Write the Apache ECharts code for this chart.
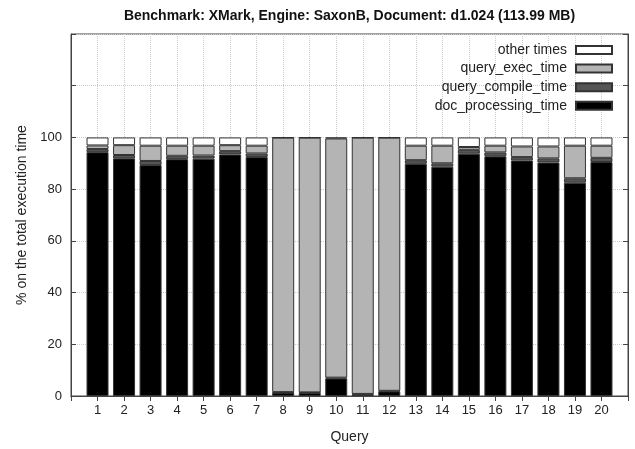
<!DOCTYPE html>
<html>
<head>
<meta charset="utf-8">
<script src="https://cdn.jsdelivr.net/npm/echarts@6/dist/echarts.min.js"></script>
<style>html,body{margin:0;padding:0;background:#fff}#c{width:635px;height:449px}</style>
</head>
<body>
<div id="c"></div>
<script>
const queries = ['1','2','3','4','5','6','7','8','9','10','11','12','13','14','15','16','17','18','19','20'];
const docProcessing = [94.3,91.9,89.3,91.6,91.8,93.4,92.4,1.3,1.2,6.8,0.6,1.8,89.8,88.7,93.7,92.7,91.1,90.3,82.5,90.5];
const queryCompile = [1.2,1.3,1.6,1.3,1.2,1.3,1.4,0.2,0.2,0.3,0.2,0.2,1.4,1.3,1.5,1.5,1.3,1.6,1.7,1.6];
const queryExec = [1.4,3.8,5.9,3.9,3.8,2.3,3.0,98.4,98.5,92.5,99.1,97.9,5.6,6.8,1.1,2.6,4.1,4.6,12.6,4.7];
const otherTimes = [3.1,3.0,3.2,3.2,3.2,3.0,3.2,0.1,0.1,0.4,0.1,0.1,3.2,3.2,3.7,3.2,3.5,3.5,3.2,3.2];
const yTickLabels = [0,20,40,60,80,100];

const FONT = "'Liberation Sans', Arial, Helvetica, sans-serif";
const chart = echarts.init(document.getElementById('c'), null, {renderer:'canvas'});
// padded category list: empty slot at each end so the frame sits half a step further out
const xCats = [''].concat(queries, ['']);
const padded = arr => [null].concat(arr, [null]);
const mkSeries = (name, arr, color) => ({
  name, type:'bar', stack:'total', data: padded(arr), barWidth: 22,
  itemStyle:{color, borderColor:'#333', borderWidth:1},
  emphasis:{disabled:true}
});
const frame = '#444';
const xBase = {
  type:'category', data:xCats, boundaryGap:false,
  axisLine:{show:true, lineStyle:{color:frame}},
  axisTick:{show:true, inside:true, length:5, lineStyle:{color:frame}, interval:0}
};
chart.setOption({
  animation:false,
  textStyle:{fontFamily:FONT},
  title:{
    text:'Benchmark: XMark, Engine: SaxonB, Document: d1.024 (113.99 MB)',
    left:344.5, top:4, textAlign:'center',
    textStyle:{fontSize:14, fontWeight:'bold', color:'#111', fontFamily:FONT}
  },
  legend:{
    orient:'vertical', right:22, top:42, padding:0, align:'right',
    itemWidth:36, itemHeight:8, itemGap:2.6,
    icon:'rect',
    textStyle:{fontSize:14, color:'#222', lineHeight:16, fontFamily:FONT, padding:[0,4,0,0]},
    data:['other times','query_exec_time','query_compile_time','doc_processing_time']
  },
  grid:{left:71, right:7, top:34, bottom:52.5, show:true, borderColor:frame, borderWidth:1, containLabel:false},
  xAxis:[Object.assign({}, xBase, {
    position:'bottom',
    name:'Query', nameLocation:'middle', nameGap:34,
    nameTextStyle:{fontSize:14, color:'#222', fontFamily:FONT},
    axisLabel:{fontSize:13, color:'#222', margin:8, fontFamily:FONT, interval:0},
    splitLine:{show:true, interval:0, lineStyle:{color:'#ccc', type:'dotted'}}
  }), Object.assign({}, xBase, {
    position:'top',
    axisLabel:{show:false}, splitLine:{show:false}
  })],
  yAxis:[{
    type:'value', min:0, max:140, interval:20, position:'left',
    name:'% on the total execution time', nameLocation:'middle', nameGap:42,
    nameTextStyle:{fontSize:14, color:'#222', fontFamily:FONT},
    axisLine:{show:true, lineStyle:{color:frame}},
    axisTick:{show:true, inside:true, length:5, lineStyle:{color:frame}},
    axisLabel:{fontSize:13, color:'#222', margin:9, fontFamily:FONT,
      formatter: v => (yTickLabels.indexOf(v) >= 0 ? String(v) : '')},
    splitLine:{show:true, lineStyle:{color:'#ccc', type:'dotted'}}
  },{
    type:'value', min:0, max:140, interval:20, position:'right',
    axisLine:{show:true, lineStyle:{color:frame}},
    axisTick:{show:true, inside:true, length:5, lineStyle:{color:frame}},
    axisLabel:{show:false}, splitLine:{show:false}
  }],
  series:[
    mkSeries('doc_processing_time', docProcessing, '#000000'),
    mkSeries('query_compile_time', queryCompile, '#555555'),
    mkSeries('query_exec_time', queryExec, '#b4b4b4'),
    mkSeries('other times', otherTimes, '#ffffff')
  ]
});
</script>
</body>
</html>
